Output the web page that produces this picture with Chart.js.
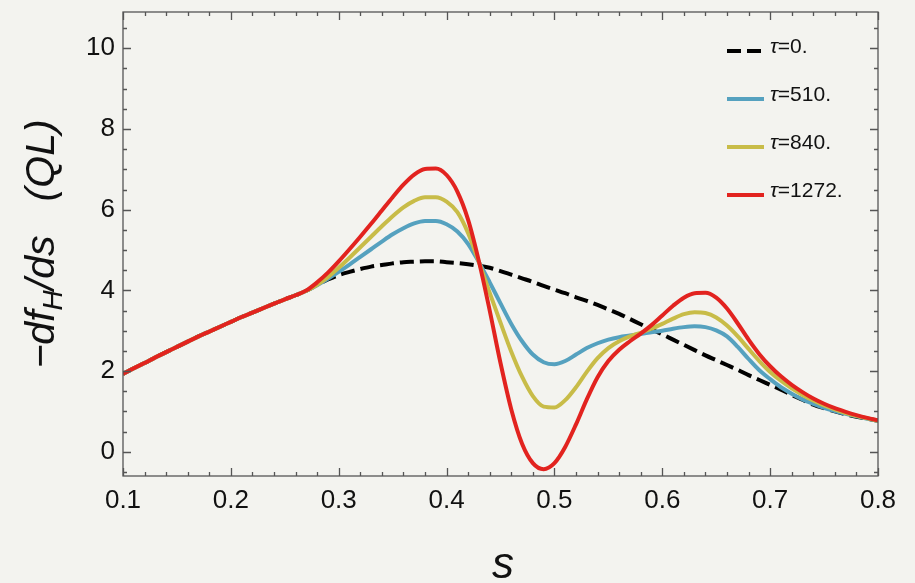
<!DOCTYPE html>
<html lang="en">
<head>
<meta charset="UTF-8">
<title>-df_H/ds (QL) vs s</title>
<script src="https://cdn.jsdelivr.net/npm/chart.js"></script>
<style>
  html, body { margin: 0; padding: 0; background: #f3f3ef; }
  #wrap { width: 915px; height: 583px; position: relative; }
</style>
</head>
<body>
<div id="wrap"><canvas id="chart"></canvas></div>
<script>
// s grid and the four curves
const sValues = [
  0.10, 0.11, 0.12, 0.13, 0.14, 0.15, 0.16, 0.17, 0.18, 0.19,
  0.20, 0.21, 0.22, 0.23, 0.24, 0.25, 0.26, 0.27, 0.28, 0.29,
  0.30, 0.31, 0.32, 0.33, 0.34, 0.35, 0.36, 0.37, 0.38, 0.39,
  0.40, 0.41, 0.42, 0.43, 0.44, 0.45, 0.46, 0.47, 0.48, 0.49,
  0.50, 0.51, 0.52, 0.53, 0.54, 0.55, 0.56, 0.57, 0.58, 0.59,
  0.60, 0.61, 0.62, 0.63, 0.64, 0.65, 0.66, 0.67, 0.68, 0.69,
  0.70, 0.71, 0.72, 0.73, 0.74, 0.75, 0.76, 0.77, 0.78, 0.79,
  0.80
];
const tau0 = [
  1.93, 2.07, 2.20, 2.34, 2.47, 2.60, 2.73, 2.86, 2.98, 3.10,
  3.22, 3.34, 3.45, 3.56, 3.67, 3.78, 3.88, 3.99, 4.14, 4.27,
  4.38, 4.46, 4.53, 4.59, 4.63, 4.67, 4.70, 4.71, 4.72, 4.72,
  4.70, 4.68, 4.65, 4.61, 4.56, 4.48, 4.39, 4.30, 4.21, 4.11,
  4.02, 3.93, 3.83, 3.74, 3.64, 3.53, 3.42, 3.29, 3.16, 3.03,
  2.91, 2.78, 2.65, 2.52, 2.39, 2.27, 2.15, 2.03, 1.90, 1.78,
  1.66, 1.54, 1.41, 1.29, 1.17, 1.08, 1.00, 0.93, 0.87, 0.82,
  0.77
];
const tau510 = [
  1.93, 2.07, 2.20, 2.34, 2.47, 2.60, 2.73, 2.86, 2.98, 3.10,
  3.22, 3.34, 3.45, 3.56, 3.67, 3.78, 3.88, 3.99, 4.13, 4.29,
  4.46, 4.64, 4.83, 5.02, 5.21, 5.39, 5.54, 5.66, 5.72, 5.72,
  5.64, 5.46, 5.15, 4.70, 4.20, 3.68, 3.17, 2.74, 2.41, 2.22,
  2.17, 2.25, 2.41, 2.57, 2.69, 2.78, 2.84, 2.88, 2.92, 2.96,
  3.00, 3.05, 3.09, 3.11, 3.09, 3.01, 2.86, 2.60, 2.30, 2.02,
  1.80, 1.60, 1.44, 1.30, 1.19, 1.09, 1.01, 0.94, 0.88, 0.82,
  0.77
];
const tau840 = [
  1.93, 2.07, 2.20, 2.34, 2.47, 2.60, 2.73, 2.86, 2.98, 3.10,
  3.22, 3.34, 3.45, 3.56, 3.67, 3.78, 3.88, 3.99, 4.14, 4.33,
  4.56, 4.81, 5.07, 5.33, 5.59, 5.84, 6.06, 6.22, 6.31, 6.31,
  6.20, 5.94, 5.42, 4.70, 3.94, 3.20, 2.48, 1.86, 1.38, 1.12,
  1.10, 1.28, 1.60, 1.98, 2.32, 2.57, 2.74, 2.86, 2.95, 3.05,
  3.17, 3.30, 3.41, 3.46, 3.44, 3.33, 3.13, 2.86, 2.55, 2.25,
  1.98, 1.76, 1.57, 1.41, 1.27, 1.15, 1.05, 0.96, 0.89, 0.83,
  0.77
];
const tau1272 = [
  1.93, 2.07, 2.20, 2.34, 2.47, 2.60, 2.73, 2.86, 2.98, 3.10,
  3.22, 3.34, 3.45, 3.56, 3.67, 3.78, 3.88, 4.00, 4.20, 4.44,
  4.72, 5.02, 5.33, 5.65, 5.98, 6.31, 6.62, 6.87, 7.01, 7.02,
  6.86, 6.45, 5.75, 4.72, 3.50, 2.20, 1.05, 0.20, -0.28, -0.43,
  -0.28, 0.12, 0.68, 1.30, 1.85, 2.25, 2.53, 2.74, 2.93, 3.14,
  3.38, 3.62, 3.82, 3.93, 3.94, 3.82, 3.55, 3.18, 2.78, 2.42,
  2.12, 1.87, 1.66, 1.48, 1.32, 1.19, 1.08, 0.99, 0.91, 0.84,
  0.78
];
const seriesLabels = ['0.', '510.', '840.', '1272.'];
const seriesColors = ['#000000', '#55a1bf', '#c8bc48', '#e2231f'];
const xTicks = [0.1, 0.2, 0.3, 0.4, 0.5, 0.6, 0.7, 0.8];
const yTicks = [0, 2, 4, 6, 8, 10];

const FONT = '"Liberation Sans", Arial, Helvetica, sans-serif';

function pts(ys) {
  return sValues.map((s, i) => ({ x: s, y: ys[i] }));
}

// frame with inward ticks on all four sides, axis titles and the legend
const framePlugin = {
  id: 'frame',
  beforeDraw(chart) {
    const ctx = chart.ctx;
    ctx.save();
    ctx.fillStyle = '#f3f3ef';
    ctx.fillRect(0, 0, chart.width, chart.height);
    ctx.restore();
  },
  afterDatasetsDraw(chart) {
    const ctx = chart.ctx;
    const a = chart.chartArea;
    const xs = chart.scales.x, ys = chart.scales.y;
    ctx.save();
    ctx.strokeStyle = '#555';
    ctx.lineWidth = 1.3;
    ctx.strokeRect(a.left, a.top, a.right - a.left, a.bottom - a.top);

    ctx.beginPath();
    for (let v = 0.1; v <= 0.8001; v += 0.02) {
      const px = Math.round(xs.getPixelForValue(v)) + 0.5;
      const major = Math.abs(v * 10 - Math.round(v * 10)) < 1e-6;
      const len = major ? 8 : 4;
      ctx.moveTo(px, a.bottom); ctx.lineTo(px, a.bottom - len);
      ctx.moveTo(px, a.top); ctx.lineTo(px, a.top + len);
    }
    for (let v = -0.5; v <= 10.5001; v += 0.5) {
      const py = Math.round(ys.getPixelForValue(v)) + 0.5;
      const major = Math.abs(v / 2 - Math.round(v / 2)) < 1e-6;
      const len = major ? 8 : 4;
      ctx.moveTo(a.left, py); ctx.lineTo(a.left + len, py);
      ctx.moveTo(a.right, py); ctx.lineTo(a.right - len, py);
    }
    ctx.stroke();

    // y axis title with subscript H
    ctx.fillStyle = '#111';
    ctx.translate(54, 244);
    ctx.rotate(-Math.PI / 2);
    const parts = [
      { t: '\u2212df', f: 'italic 41px ' + FONT, dy: 0 },
      { t: 'H', f: 'italic 28px ' + FONT, dy: 8 },
      { t: '/ds   (QL)', f: 'italic 41px ' + FONT, dy: 0 }
    ];
    let total = 0;
    parts.forEach(p => { ctx.font = p.f; p.w = ctx.measureText(p.t).width; total += p.w; });
    let cx = -total / 2;
    ctx.textBaseline = 'alphabetic';
    ctx.textAlign = 'left';
    parts.forEach(p => { ctx.font = p.f; ctx.fillText(p.t, cx, p.dy); cx += p.w; });
    ctx.restore();

    // x axis title
    ctx.save();
    ctx.fillStyle = '#111';
    ctx.font = 'italic 44px ' + FONT;
    ctx.textAlign = 'center';
    ctx.textBaseline = 'alphabetic';
    ctx.fillText('s', 503, 578);
    ctx.restore();

    // legend
    ctx.save();
    chart.data.datasets.forEach((ds, i) => {
      const y = 51 + i * 48;
      ctx.beginPath();
      ctx.strokeStyle = ds.borderColor;
      ctx.lineWidth = 4;
      ctx.setLineDash(ds.borderDash || []);
      ctx.moveTo(727, y); ctx.lineTo(764, y);
      ctx.stroke();
      ctx.setLineDash([]);
      ctx.fillStyle = '#111';
      ctx.textBaseline = 'alphabetic';
      ctx.font = 'italic 21px ' + FONT;
      ctx.fillText('\u03c4', 770, y + 2);
      const w = ctx.measureText('\u03c4').width;
      ctx.font = '21px ' + FONT;
      ctx.fillText('=' + seriesLabels[i], 770 + w, y + 2);
    });
    ctx.restore();
  }
};

const datasets = [tau0, tau510, tau840, tau1272].map((ys, i) => ({
  label: '\u03c4=' + seriesLabels[i],
  data: pts(ys),
  borderColor: seriesColors[i],
  borderWidth: 4,
  borderDash: i === 0 ? [14, 6] : [],
  pointRadius: 0,
  cubicInterpolationMode: 'monotone',
  fill: false,
  order: 4 - i
}));

new Chart(document.getElementById('chart'), {
  type: 'line',
  data: { datasets },
  options: {
    responsive: true,
    maintainAspectRatio: false,
    animation: false,
    layout: { padding: { top: 12, right: 37, left: 0, bottom: 0 } },
    plugins: { legend: { display: false }, tooltip: { enabled: false } },
    scales: {
      x: {
        type: 'linear',
        min: 0.1,
        max: 0.8,
        grid: { display: false, drawTicks: false },
        border: { display: false },
        afterBuildTicks: s => { s.ticks = xTicks.map(v => ({ value: v })); },
        afterFit: s => { s.height = 107; s.paddingLeft = 0; s.paddingRight = 0; },
        ticks: {
          padding: 9,
          color: '#111',
          font: { family: FONT, size: 26 },
          callback: v => v.toFixed(1)
        }
      },
      y: {
        type: 'linear',
        min: -0.6,
        max: 10.9,
        grid: { display: false, drawTicks: false },
        border: { display: false },
        afterBuildTicks: s => { s.ticks = yTicks.map(v => ({ value: v })); },
        afterFit: s => { s.width = 123; s.paddingTop = 0; s.paddingBottom = 0; },
        ticks: {
          padding: 8,
          color: '#111',
          font: { family: FONT, size: 26 },
          callback: v => String(v)
        }
      }
    }
  },
  plugins: [framePlugin]
});
</script>
</body>
</html>
